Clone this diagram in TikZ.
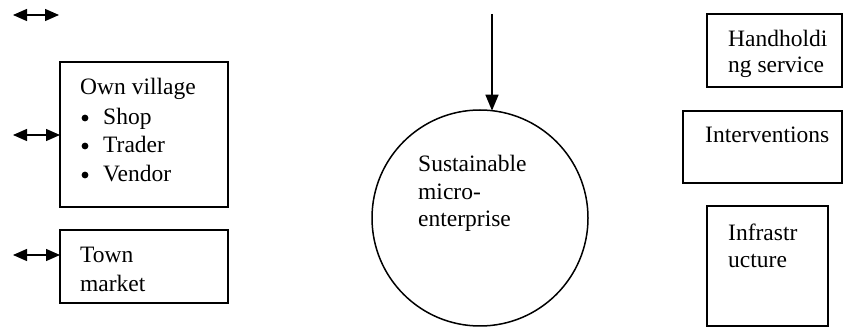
\documentclass[tikz,border=0pt]{standalone}
\usepackage{fontspec}
\setmainfont{Liberation Serif}
\usetikzlibrary{arrows.meta,positioning}

\tikzset{
  box/.style={draw, line width=1.5pt, inner sep=0pt, outer sep=0pt, anchor=north west},
  txt/.style={anchor=base west, inner sep=0pt, font=\fontsize{23.5}{28}\selectfont},
  link/.style={{Triangle[length=14pt,width=12pt]}-{Triangle[length=14pt,width=12pt]}, line width=1.3pt},
  feed/.style={-{Triangle[length=16pt,width=13pt]}, line width=1.5pt},
}

\begin{document}
\begin{tikzpicture}[x=1pt, y=-1pt]
\useasboundingbox (0,0) rectangle (843,328);

% market side
\node[box, minimum width=168, minimum height=145] (village) at (60,62) {};
\node[box, minimum width=168, minimum height=73] (town) at (60,230) {};

\node[txt] (village-t) at (80,95) {Own village};
\foreach \y/\t in {125/Shop,153/Trader,182/Vendor} {
  \fill (85,\y-7) circle (3.4);
  \node[txt] (item-\t) at (103,\y) {\t};
}
\node[txt] (town-t1) at (80,263) {Town};
\node[txt] (town-t2) at (80,292) {market};

\coordinate (l1) at (13,15);
\coordinate (r1) at (59,15);
\coordinate (l2) at (13,135);
\coordinate (l3) at (13,255);
\draw[link] (l1) -- (r1);
\draw[link] (l2) -- (l2 -| village.west);
\draw[link] (l3) -- (l3 -| town.west);

% enterprise in the middle
\node[draw, circle, line width=1.5pt, minimum size=216, inner sep=0pt, outer sep=0pt] (hub) at (480,218) {};
\node[txt] (hub-t1) at (418,172) {Sustainable};
\node[txt] (hub-t2) at (418,200) {micro-};
\node[txt] (hub-t3) at (418,227) {enterprise};

\coordinate (in) at (492,14);
\draw[feed] (in) -- (492,110.7);

% support side
\node[box, minimum width=135, minimum height=73] (hand) at (707,14) {};
\node[box, minimum width=159, minimum height=72] (interv) at (683,111) {};
\node[box, minimum width=121, minimum height=120] (infra) at (707,206) {};

\node[txt] (hand-t1) at (728,47) {Handholdi};
\node[txt] (hand-t2) at (728,73) {ng service};
\node[txt] (interv-t) at (705,143) {Interventions};
\node[txt] (infra-t1) at (728,241) {Infrastr};
\node[txt] (infra-t2) at (728,268) {ucture};
\end{tikzpicture}
\end{document}
